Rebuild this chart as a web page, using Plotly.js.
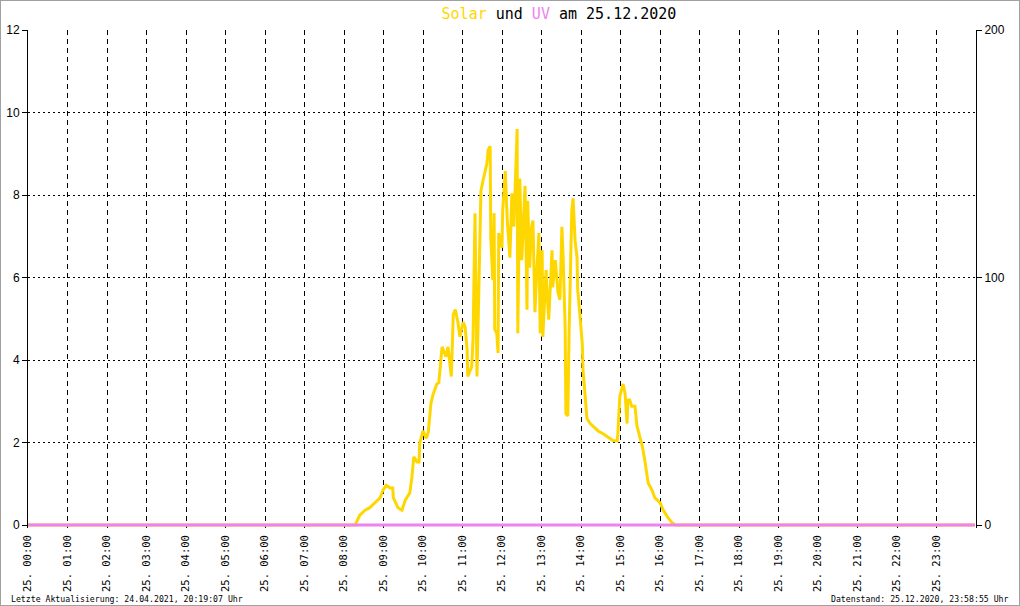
<!DOCTYPE html>
<html>
<head>
<meta charset="utf-8">
<script src="https://cdn.plot.ly/plotly-3.0.1.min.js"></script>
<style>
html,body{margin:0;padding:0;background:#fff;}
#wrap{position:relative;width:1020px;height:606px;}
#chart{position:absolute;left:0;top:0;width:1020px;height:606px;}
#frame{position:absolute;left:0;top:0;width:1020px;height:606px;box-sizing:border-box;border:1px solid #a0a0a0;pointer-events:none;}
</style>
</head>
<body>
<div id="wrap"><div id="chart"></div><div id="frame"></div></div>
<script>
// Solar radiation (W/m², right axis) on 25.12.2020
const solarTimes = ["00:00","08:17","08:24","08:32","08:39","08:47","08:55","08:59","09:04","09:10","09:14","09:15","09:22","09:28","09:33","09:40","09:43","09:46","09:51","09:54","09:55","10:00","10:05","10:08","10:12","10:15","10:21","10:24","10:27","10:29","10:35","10:38","10:43","10:46","10:49","10:53","10:56","11:01","11:04","11:07","11:08","11:14","11:16","11:19","11:22","11:25","11:28","11:31","11:34","11:37","11:39","11:42","11:43","11:46","11:48","11:49","11:52","11:54","11:55","12:00","12:01","12:05","12:08","12:09","12:12","12:15","12:18","12:23","12:24","12:27","12:30","12:32","12:35","12:38","12:39","12:42","12:45","12:47","12:50","12:53","12:56","12:58","13:01","13:02","13:07","13:08","13:11","13:16","13:17","13:21","13:23","13:25","13:28","13:31","13:33","13:36","13:37","13:40","13:42","13:45","13:46","13:48","13:51","13:54","13:55","13:58","14:02","14:03","14:06","14:09","14:14","14:18","14:26","14:33","14:41","14:49","14:55","14:56","14:59","15:04","15:07","15:10","15:11","15:14","15:17","15:22","15:25","15:28","15:33","15:37","15:40","15:42","15:48","15:52","16:00","16:05","16:12","16:18","16:23","23:58"];
const solarValues = [0,0,4,6,7,9,11,14,16,15,15,11,7,6,10,13,19,27.5,25.5,25.5,33,38,35,37.5,49,52.5,57,57.5,67,72,68,72,60,85,87,82,76,82,80,71,60,64,75,126,60,95,135,139,142,146,151.5,153,116,99,126,79,77.5,69.5,118,112,127,143,123,119,108,134,120.5,160,77.5,140,107,119,137,87,131,104,120.5,123,86,103,118,77.5,111,76,103,96,83,111,96,107,100,94,91,120.5,107,79,45,44,79,115,127,132,115,108,95,86,73,63,52,43,41,40,38,37,35.5,34,34,37,52,57,53,41,50.5,50.5,48,48,40,37,32,26,21,17,14,11,9,6,3,1,0,0];
// UV index (left axis)
const uvTimes = ["00:00","23:58"];
const uvValues = [0,0];
// x tick labels
const hourTicks = ["00:00","01:00","02:00","03:00","04:00","05:00","06:00","07:00","08:00","09:00","10:00","11:00","12:00","13:00","14:00","15:00","16:00","17:00","18:00","19:00","20:00","21:00","22:00","23:00"];
const hourLabels = hourTicks.map(t => "25. " + t);

const day = "2020-12-25 ";
const mono = "DejaVu Sans Mono, monospace";
// plot area extends 3px below the zero line so the zero-level lines are not clipped
const pxPerUV = 495 / 12, below = 3;

const traces = [
  {x: solarTimes.map(t => day + t), y: solarValues, yaxis: "y", type: "scatter", mode: "lines",
   line: {color: "#FFD700", width: 3}, name: "Solar"},
  {x: uvTimes.map(t => day + t), y: uvValues, yaxis: "y2", type: "scatter", mode: "lines",
   line: {color: "#EE82EE", width: 3}, name: "UV"}
];

const layout = {
  width: 1020, height: 606,
  margin: {l: 28, r: 44, t: 30, b: 81 - below, pad: 0},
  paper_bgcolor: "#ffffff", plot_bgcolor: "#ffffff",
  showlegend: false,
  font: {family: mono, color: "#000"},
  title: {
    text: '<span style="color:#FFD700">Solar</span> und <span style="color:#EE82EE">UV</span> am 25.12.2020',
    x: 0.548, xanchor: "center", xref: "container",
    y: 0.977, yanchor: "middle", yref: "container",
    font: {family: mono, size: 15, color: "#000"}
  },
  xaxis: {
    type: "date",
    range: ["2020-12-25 00:00", "2020-12-26 00:00"],
    tickvals: hourTicks.map(t => day + t),
    ticktext: hourLabels,
    tickangle: -90,
    tickfont: {family: mono, size: 10.5, color: "#000"},
    ticks: "", ticklabelstandoff: 4,
    showgrid: true, gridcolor: "#000", gridwidth: 1, griddash: "5px,4px",
    showline: false,
    zeroline: false, fixedrange: true
  },
  // solar axis (right, 0-200)
  yaxis: {
    range: [-below * 200 / 495, 200], tickvals: [0, 100, 200], side: "right",
    tickfont: {family: "Liberation Sans, sans-serif", size: 12, color: "#000"},
    ticks: "outside", ticklen: 5, tickcolor: "#000",
    showgrid: false,
    showline: true, linecolor: "#000", linewidth: 1,
    zeroline: false, fixedrange: true
  },
  // UV axis (left, 0-12)
  yaxis2: {
    range: [-below / pxPerUV, 12], tickvals: [0, 2, 4, 6, 8, 10, 12],
    overlaying: "y", side: "left",
    tickfont: {family: "Liberation Sans, sans-serif", size: 12, color: "#000"},
    ticks: "outside", ticklen: 5, tickcolor: "#000",
    showgrid: true, gridcolor: "#000", gridwidth: 1, griddash: "2px,3px",
    showline: true, linecolor: "#000", linewidth: 1,
    zeroline: false, fixedrange: true
  },
  annotations: [
    {text: "Letzte Aktualisierung: 24.04.2021, 20:19:07 Uhr", xref: "paper", yref: "paper",
     x: -28/948, xshift: 9, xanchor: "left", y: -(81 - below)/498, yshift: 7, yanchor: "middle",
     showarrow: false, font: {family: mono, size: 8.2, color: "#000"}},
    {text: "Datenstand: 25.12.2020, 23:58:55 Uhr", xref: "paper", yref: "paper",
     x: 1 + 44/948, xshift: -9, xanchor: "right", y: -(81 - below)/498, yshift: 7, yanchor: "middle",
     showarrow: false, font: {family: mono, size: 8.2, color: "#000"}}
  ]
};

Plotly.newPlot("chart", traces, layout, {displayModeBar: false, staticPlot: true});
</script>
</body>
</html>
